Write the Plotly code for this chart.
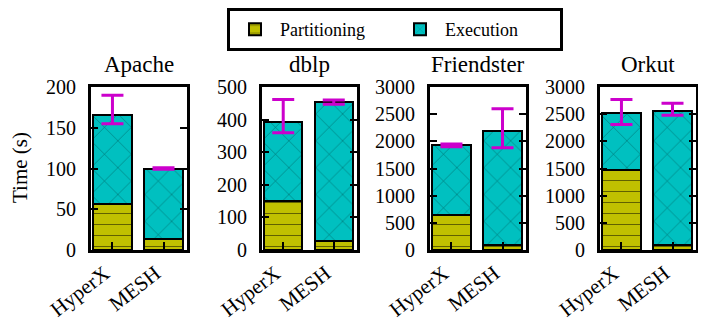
import plotly.graph_objects as go

# data
datasets = ["Apache", "dblp", "Friendster", "Orkut"]
systems = ["HyperX", "MESH"]
partitioning = [[57, 14], [150, 27], [640, 100], [1470, 90]]
execution = [[109, 86], [242, 428], [1290, 2090], [1060, 2470]]
err_low = [[155, 99], [360, 447], [1900, 1880], [2310, 2480]]
err_high = [[190, 101], [462, 460], [1950, 2600], [2770, 2700]]
y_max = [200, 500, 3000, 3000]
y_step = [50, 100, 500, 500]

PART_COLOR = "#c0c000"
EXEC_COLOR = "#00c0c0"
ERR_COLOR = "#cc00cc"
FONT = "Liberation Serif"

# the page body has an 8px margin, so the figure is drawn 8px in
OFF = 8
W, H = 706 - OFF, 325 - OFF


def px(x):
    return (x - OFF) / W


def py(y):
    return 1 - (y - OFF) / H


frames = [(91, 187), (262, 357), (430, 526), (600, 696)]
y_dom = [py(250), py(87)]

fig = go.Figure()

for i, name in enumerate(datasets):
    sfx = "" if i == 0 else str(i + 1)
    xa, ya = "x" + sfx, "y" + sfx

    fig.add_trace(go.Bar(
        x=systems, y=partitioning[i], name="Partitioning",
        xaxis=xa, yaxis=ya, width=0.75, showlegend=(i == 0),
        legendgroup="part",
        marker=dict(color=PART_COLOR, line=dict(color="black", width=2),
                    pattern=dict(shape="-", fgcolor="black", size=11,
                                 solidity=0.09, fillmode="overlay")),
    ))
    fig.add_trace(go.Bar(
        x=systems, y=execution[i], name="Execution",
        xaxis=xa, yaxis=ya, width=0.75, showlegend=(i == 0),
        legendgroup="exec",
        marker=dict(color=EXEC_COLOR, line=dict(color="black", width=2),
                    pattern=dict(shape="x", fgcolor="black", size=19,
                                 solidity=0.05, fillmode="overlay")),
    ))
    # error bars (asymmetric) drawn with an invisible marker
    mid = [(lo + hi) / 2 for lo, hi in zip(err_low[i], err_high[i])]
    fig.add_trace(go.Scatter(
        x=systems, y=mid, mode="markers", xaxis=xa, yaxis=ya,
        showlegend=False, hoverinfo="skip",
        marker=dict(size=1, color="rgba(0,0,0,0)"),
        error_y=dict(type="data", symmetric=False,
                     array=[hi - m for hi, m in zip(err_high[i], mid)],
                     arrayminus=[m - lo for lo, m in zip(err_low[i], mid)],
                     color=ERR_COLOR, thickness=3, width=11),
    ))

    x0, x1 = frames[i]
    xdom = [px(x0), px(x1)]
    common = dict(showline=True, linecolor="black", linewidth=3,
                  ticks="inside", tickcolor="black", tickwidth=1.5,
                  showgrid=False, zeroline=False, automargin=False)
    fig.layout["xaxis" + sfx] = dict(
        common, domain=xdom, anchor=ya, range=[-0.42, 1.46], mirror=True,
        ticklen=8, tickangle=-38, type="category",
        ticklabelshift=-8, ticklabelstandoff=0,
        tickfont=dict(family=FONT, size=21, color="black"))
    fig.layout["yaxis" + sfx] = dict(
        common, domain=y_dom, anchor=xa, range=[0, y_max[i]],
        mirror="allticks", dtick=y_step[i], ticklen=7,
        ticklabelstandoff=8,
        tickfont=dict(family=FONT, size=20, color="black"))

    fig.add_annotation(text=name, x=(xdom[0] + xdom[1]) / 2, y=py(64),
                       xanchor="center", yanchor="middle",
                       xref="paper", yref="paper", showarrow=False,
                       font=dict(family=FONT, size=23, color="black"))

fig.add_annotation(text="Time (s)", x=px(20), y=py(168), textangle=-90,
                   xanchor="center", yanchor="middle",
                   xref="paper", yref="paper", showarrow=False,
                   font=dict(family=FONT, size=21, color="black"))

fig.update_layout(
    template="none",
    width=W, height=H, barmode="stack",
    margin=dict(l=0, r=0, t=0, b=0, autoexpand=False),
    plot_bgcolor="white", paper_bgcolor="white",
    font=dict(family=FONT, color="black"),
    legend=dict(orientation="h", x=px(395), xanchor="center",
                y=1, yanchor="top", bordercolor="black",
                borderwidth=3, font=dict(family=FONT, size=18),
                itemwidth=40, entrywidth=110, traceorder="normal"),
)

fig.write_html("out.html")
